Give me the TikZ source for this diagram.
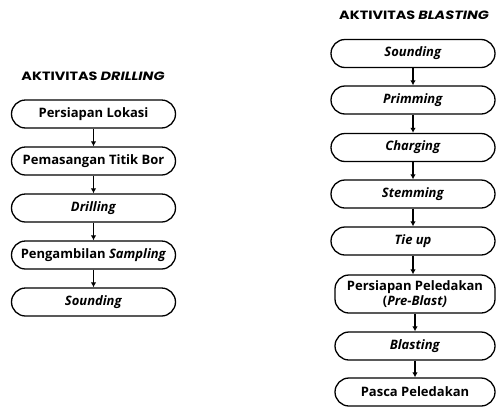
\documentclass[tikz,border=0pt]{standalone}
\usepackage{fontspec}
\setmainfont{Open Sans}
\newfontfamily\judulfont[FakeStretch=1.2]{Poppins}
\usepackage{tikz}
\usetikzlibrary{positioning,arrows.meta}

\tikzset{
  langkah/.style={draw, line width=1.3pt, rounded corners=14pt, minimum width=164pt,
    minimum height=28pt, align=center, inner sep=2pt, font=\fontsize{13}{15}\selectfont\bfseries},
  judul/.style={font=\judulfont\fontsize{12}{14}\selectfont\bfseries},
  panah/.style={line width=1.2pt, -{Latex[length=5pt,width=5.5pt]}}
}

\begin{document}
\begin{tikzpicture}[x=1pt, y=-1pt]
  \useasboundingbox (0,0) rectangle (497,407);

  % Drilling column
  \node[judul] (tdrill) at (93,76) {AKTIVITAS \textit{DRILLING}};
  \node[langkah] (d1) at (93.5,114) {Persiapan Lokasi};
  \node[langkah] (d2) at (93.5,161) {Pemasangan Titik Bor};
  \node[langkah] (d3) at (93.5,208) {\textit{Drilling}};
  \node[langkah] (d4) at (93.5,255) {Pengambilan \textit{Sampling}};
  \node[langkah] (d5) at (93.5,302) {\textit{Sounding}};
  \draw[panah] (d1) -- (d2);
  \draw[panah] (d2) -- (d3);
  \draw[panah] (d3) -- (d4);
  \draw[panah] (d4) -- (d5);

  % Blasting column
  \node[judul] (tblast) at (414,15) {AKTIVITAS \textit{BLASTING}};
  \node[langkah] (b1) at (413,53.5) {\textit{Sounding}};
  \node[langkah] (b2) at (413,100) {\textit{Primming}};
  \node[langkah] (b3) at (413,147.5) {\textit{Charging}};
  \node[langkah] (b4) at (413,194) {\textit{Stemming}};
  \node[langkah] (b5) at (413,241) {\textit{Tie up}};
  \node[langkah, minimum width=160pt, minimum height=38pt] (b6) at (415,294) {Persiapan Peledakan\\(\textit{Pre-Blast)}};
  \node[langkah, minimum width=160pt] (b7) at (415,346) {\textit{Blasting}};
  \node[langkah, minimum width=160pt] (b8) at (415,392) {Pasca Peledakan};
  \draw[panah] (b1) -- (b2);
  \draw[panah] (b2) -- (b3);
  \draw[panah] (b3) -- (b4);
  \draw[panah] (b4) -- (b5);
  \draw[panah] (b5.south) -- (b5.south |- b6.north);
  \draw[panah] (b6) -- (b7);
  \draw[panah] (b7) -- (b8);
\end{tikzpicture}
\end{document}
